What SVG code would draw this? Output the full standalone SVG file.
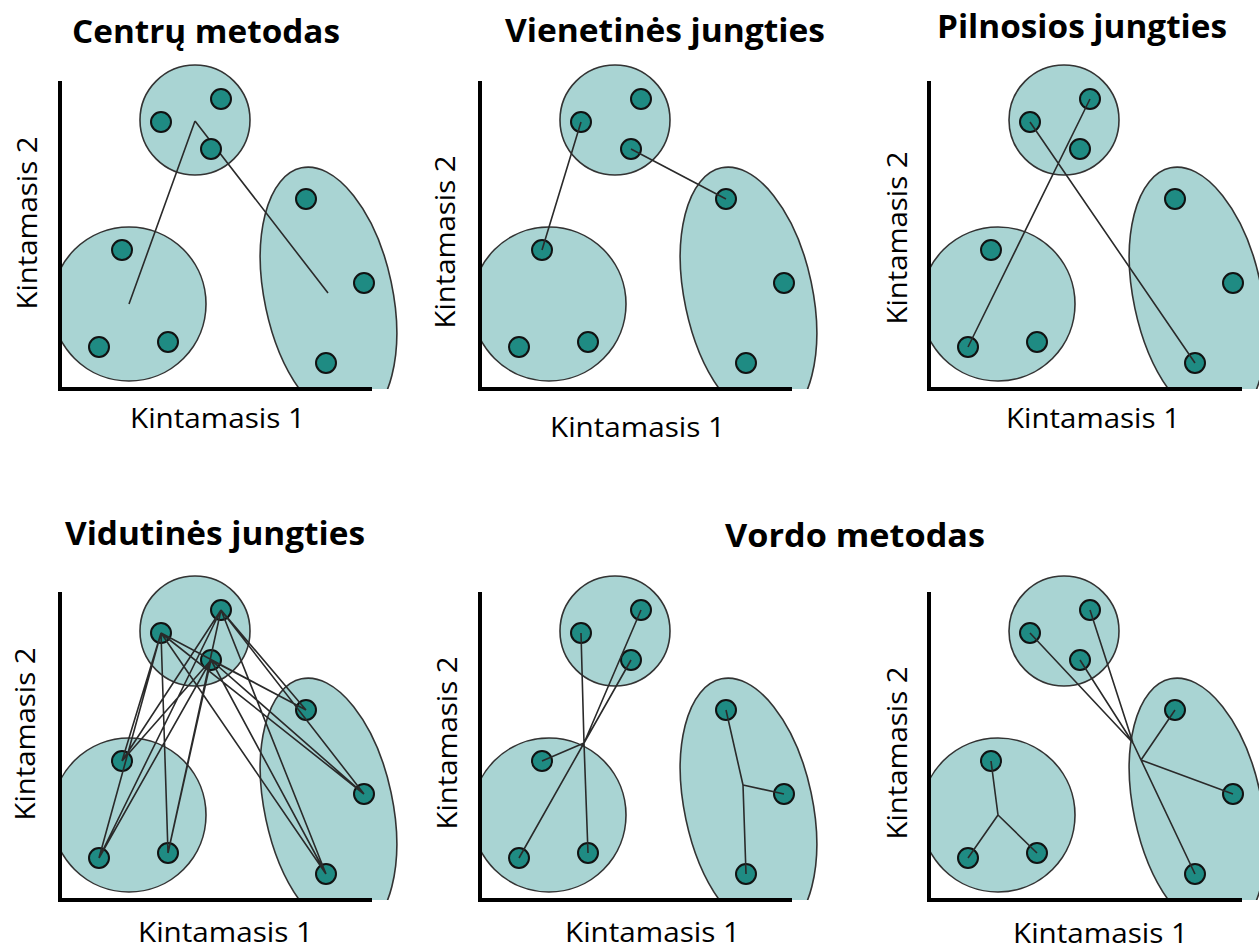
<svg xmlns="http://www.w3.org/2000/svg" width="1259" height="949" viewBox="0 0 1259 949">
<style>
.cl{fill:#a9d4d3;stroke:#333;stroke-width:1.6}
.pt{fill:#1f8b83;stroke:#111;stroke-width:2}
.ln{stroke:#2a2a2a;stroke-width:1.6;fill:none}
.ax{stroke:#000;stroke-width:4;fill:none}
.t{font-family:"Open Sans","Liberation Sans",sans-serif;font-weight:bold;font-size:32px;fill:#000}
.lb{font-family:"Open Sans","Liberation Sans",sans-serif;font-size:28px;fill:#000}
</style>
<defs>
<clipPath id="pc" clipPathUnits="userSpaceOnUse"><rect x="60" y="0" width="1400" height="389"/></clipPath>
</defs>
<rect width="1259" height="949" fill="#fff"/>

<!-- Titles and labels -->
<g id="labels">
<text class="t" x="206" y="43" text-anchor="middle" textLength="268" lengthAdjust="spacingAndGlyphs">Centrų metodas</text>
<text class="t" x="665" y="42" text-anchor="middle" textLength="320" lengthAdjust="spacingAndGlyphs">Vienetinės jungties</text>
<text class="t" x="1082" y="38" text-anchor="middle" textLength="290" lengthAdjust="spacingAndGlyphs">Pilnosios jungties</text>
<text class="t" x="215" y="545" text-anchor="middle" textLength="300" lengthAdjust="spacingAndGlyphs">Vidutinės jungties</text>
<text class="t" x="855" y="547" text-anchor="middle" textLength="260" lengthAdjust="spacingAndGlyphs">Vordo metodas</text>
<text class="lb" x="217.5" y="428" text-anchor="middle" textLength="175" lengthAdjust="spacingAndGlyphs">Kintamasis 1</text>
<text class="lb" x="637.5" y="437" text-anchor="middle" textLength="175" lengthAdjust="spacingAndGlyphs">Kintamasis 1</text>
<text class="lb" x="1093" y="428" text-anchor="middle" textLength="174" lengthAdjust="spacingAndGlyphs">Kintamasis 1</text>
<text class="lb" x="225.5" y="942" text-anchor="middle" textLength="175" lengthAdjust="spacingAndGlyphs">Kintamasis 1</text>
<text class="lb" x="652.5" y="942" text-anchor="middle" textLength="175" lengthAdjust="spacingAndGlyphs">Kintamasis 1</text>
<text class="lb" x="1100.5" y="943" text-anchor="middle" textLength="175" lengthAdjust="spacingAndGlyphs">Kintamasis 1</text>
<text class="lb" transform="translate(37,223) rotate(-90)" text-anchor="middle" textLength="173" lengthAdjust="spacingAndGlyphs">Kintamasis 2</text>
<text class="lb" transform="translate(455,242) rotate(-90)" text-anchor="middle" textLength="173" lengthAdjust="spacingAndGlyphs">Kintamasis 2</text>
<text class="lb" transform="translate(907,238) rotate(-90)" text-anchor="middle" textLength="173" lengthAdjust="spacingAndGlyphs">Kintamasis 2</text>
<text class="lb" transform="translate(35,734) rotate(-90)" text-anchor="middle" textLength="173" lengthAdjust="spacingAndGlyphs">Kintamasis 2</text>
<text class="lb" transform="translate(457,743) rotate(-90)" text-anchor="middle" textLength="173" lengthAdjust="spacingAndGlyphs">Kintamasis 2</text>
<text class="lb" transform="translate(907,753) rotate(-90)" text-anchor="middle" textLength="173" lengthAdjust="spacingAndGlyphs">Kintamasis 2</text>
</g>

<!-- Panel 1 -->
<g id="p1">
<g clip-path="url(#pc)">
<g id="p1-top"><circle class="cl" cx="195" cy="120" r="55"/></g>
<g id="p1-bl"><circle class="cl" cx="129" cy="304" r="77"/></g>
<g id="p1-el"><ellipse class="cl" cx="328.5" cy="295" rx="64" ry="130" transform="rotate(-12 328.5 295)"/></g>
</g>
<path class="ax" d="M60,81V391M58,389H372"/>
<g id="p1-links"><path class="ln" d="M195,121L129,304M195,121L328,293"/></g>
<g id="p1-a1"><circle class="pt" cx="161" cy="122" r="10"/></g>
<g id="p1-a2"><circle class="pt" cx="221" cy="99" r="10"/></g>
<g id="p1-a3"><circle class="pt" cx="211" cy="149" r="10"/></g>
<g id="p1-b1"><circle class="pt" cx="122" cy="250" r="10"/></g>
<g id="p1-b2"><circle class="pt" cx="99" cy="347" r="10"/></g>
<g id="p1-b3"><circle class="pt" cx="168" cy="342" r="10"/></g>
<g id="p1-c1"><circle class="pt" cx="306" cy="199" r="10"/></g>
<g id="p1-c2"><circle class="pt" cx="364" cy="283" r="10"/></g>
<g id="p1-c3"><circle class="pt" cx="326" cy="363" r="10"/></g>
</g>

<!-- Panel 2 -->
<g id="p2" transform="translate(420,0)">
<g clip-path="url(#pc)">
<g id="p2-top"><circle class="cl" cx="195" cy="120" r="55"/></g>
<g id="p2-bl"><circle class="cl" cx="129" cy="304" r="77"/></g>
<g id="p2-el"><ellipse class="cl" cx="328.5" cy="295" rx="64" ry="130" transform="rotate(-12 328.5 295)"/></g>
</g>
<path class="ax" d="M60,81V391M58,389H372"/>
<g id="p2-a1"><circle class="pt" cx="161" cy="122" r="10"/></g>
<g id="p2-a2"><circle class="pt" cx="221" cy="99" r="10"/></g>
<g id="p2-a3"><circle class="pt" cx="211" cy="149" r="10"/></g>
<g id="p2-b1"><circle class="pt" cx="122" cy="250" r="10"/></g>
<g id="p2-b2"><circle class="pt" cx="99" cy="347" r="10"/></g>
<g id="p2-b3"><circle class="pt" cx="168" cy="342" r="10"/></g>
<g id="p2-c1"><circle class="pt" cx="306" cy="199" r="10"/></g>
<g id="p2-c2"><circle class="pt" cx="364" cy="283" r="10"/></g>
<g id="p2-c3"><circle class="pt" cx="326" cy="363" r="10"/></g>
<g id="p2-links"><path class="ln" d="M161,122L122,250M211,149L306,199"/></g>
</g>

<!-- Panel 3 -->
<g id="p3" transform="translate(869,0)">
<g clip-path="url(#pc)">
<g id="p3-top"><circle class="cl" cx="195" cy="120" r="55"/></g>
<g id="p3-bl"><circle class="cl" cx="129" cy="304" r="77"/></g>
<g id="p3-el"><ellipse class="cl" cx="328.5" cy="295" rx="64" ry="130" transform="rotate(-12 328.5 295)"/></g>
</g>
<path class="ax" d="M60,81V391M58,389H373"/>
<g id="p3-a1"><circle class="pt" cx="161" cy="122" r="10"/></g>
<g id="p3-a2"><circle class="pt" cx="221" cy="99" r="10"/></g>
<g id="p3-a3"><circle class="pt" cx="211" cy="149" r="10"/></g>
<g id="p3-b1"><circle class="pt" cx="122" cy="250" r="10"/></g>
<g id="p3-b2"><circle class="pt" cx="99" cy="347" r="10"/></g>
<g id="p3-b3"><circle class="pt" cx="168" cy="342" r="10"/></g>
<g id="p3-c1"><circle class="pt" cx="306" cy="199" r="10"/></g>
<g id="p3-c2"><circle class="pt" cx="364" cy="283" r="10"/></g>
<g id="p3-c3"><circle class="pt" cx="326" cy="363" r="10"/></g>
<g id="p3-links"><path class="ln" d="M221,99L99,347M161,122L326,363"/></g>
</g>

<!-- Panel 4 -->
<g id="p4" transform="translate(0,511)">
<g clip-path="url(#pc)">
<g id="p4-top"><circle class="cl" cx="195" cy="120" r="55"/></g>
<g id="p4-bl"><circle class="cl" cx="129" cy="304" r="77"/></g>
<g id="p4-el"><ellipse class="cl" cx="328.5" cy="295" rx="64" ry="130" transform="rotate(-12 328.5 295)"/></g>
</g>
<path class="ax" d="M60,81V391M58,389H372"/>
<g id="p4-a1"><circle class="pt" cx="161" cy="122" r="10"/></g>
<g id="p4-a2"><circle class="pt" cx="221" cy="99" r="10"/></g>
<g id="p4-a3"><circle class="pt" cx="211" cy="149" r="10"/></g>
<g id="p4-b1"><circle class="pt" cx="122" cy="250" r="10"/></g>
<g id="p4-b2"><circle class="pt" cx="99" cy="347" r="10"/></g>
<g id="p4-b3"><circle class="pt" cx="168" cy="342" r="10"/></g>
<g id="p4-c1"><circle class="pt" cx="306" cy="199" r="10"/></g>
<g id="p4-c2"><circle class="pt" cx="364" cy="283" r="10"/></g>
<g id="p4-c3"><circle class="pt" cx="326" cy="363" r="10"/></g>
<g id="p4-links"><path class="ln" d="M161,122L122,250M161,122L99,347M161,122L168,342M221,99L122,250M221,99L99,347M221,99L168,342M211,149L122,250M211,149L99,347M211,149L168,342M161,122L306,199M161,122L364,283M161,122L326,363M221,99L306,199M221,99L364,283M221,99L326,363M211,149L306,199M211,149L364,283M211,149L326,363"/></g>
</g>

<!-- Panel 5 -->
<g id="p5" transform="translate(420,511)">
<g clip-path="url(#pc)">
<g id="p5-top"><circle class="cl" cx="195" cy="120" r="55"/></g>
<g id="p5-bl"><circle class="cl" cx="129" cy="304" r="77"/></g>
<g id="p5-el"><ellipse class="cl" cx="328.5" cy="295" rx="64" ry="130" transform="rotate(-12 328.5 295)"/></g>
</g>
<path class="ax" d="M60,81V391M58,389H372"/>
<g id="p5-a1"><circle class="pt" cx="161" cy="122" r="10"/></g>
<g id="p5-a2"><circle class="pt" cx="221" cy="99" r="10"/></g>
<g id="p5-a3"><circle class="pt" cx="211" cy="149" r="10"/></g>
<g id="p5-b1"><circle class="pt" cx="122" cy="250" r="10"/></g>
<g id="p5-b2"><circle class="pt" cx="99" cy="347" r="10"/></g>
<g id="p5-b3"><circle class="pt" cx="168" cy="342" r="10"/></g>
<g id="p5-c1"><circle class="pt" cx="306" cy="199" r="10"/></g>
<g id="p5-c2"><circle class="pt" cx="364" cy="283" r="10"/></g>
<g id="p5-c3"><circle class="pt" cx="326" cy="363" r="10"/></g>
<g id="p5-links"><path class="ln" d="M161,122L164,232M221,99L164,232M211,149L164,232M122,250L164,232M99,347L164,232M168,342L164,232M306,199L323,274M364,283L323,274M326,363L323,274"/></g>
</g>

<!-- Panel 6 -->
<g id="p6" transform="translate(869,511)">
<g clip-path="url(#pc)">
<g id="p6-top"><circle class="cl" cx="195" cy="120" r="55"/></g>
<g id="p6-bl"><circle class="cl" cx="129" cy="304" r="77"/></g>
<g id="p6-el"><ellipse class="cl" cx="328.5" cy="295" rx="64" ry="130" transform="rotate(-12 328.5 295)"/></g>
</g>
<path class="ax" d="M60,81V391M58,389H373"/>
<g id="p6-a1"><circle class="pt" cx="161" cy="122" r="10"/></g>
<g id="p6-a2"><circle class="pt" cx="221" cy="99" r="10"/></g>
<g id="p6-a3"><circle class="pt" cx="211" cy="149" r="10"/></g>
<g id="p6-b1"><circle class="pt" cx="122" cy="250" r="10"/></g>
<g id="p6-b2"><circle class="pt" cx="99" cy="347" r="10"/></g>
<g id="p6-b3"><circle class="pt" cx="168" cy="342" r="10"/></g>
<g id="p6-c1"><circle class="pt" cx="306" cy="199" r="10"/></g>
<g id="p6-c2"><circle class="pt" cx="364" cy="283" r="10"/></g>
<g id="p6-c3"><circle class="pt" cx="326" cy="363" r="10"/></g>
<g id="p6-links"><path class="ln" d="M122,250L129,304M99,347L129,304M168,342L129,304M161,122L264,232M221,99L264,232M211,149L264,232M264,232L326,363M272,249L306,199M272,249L364,283"/></g>
</g>
</svg>
